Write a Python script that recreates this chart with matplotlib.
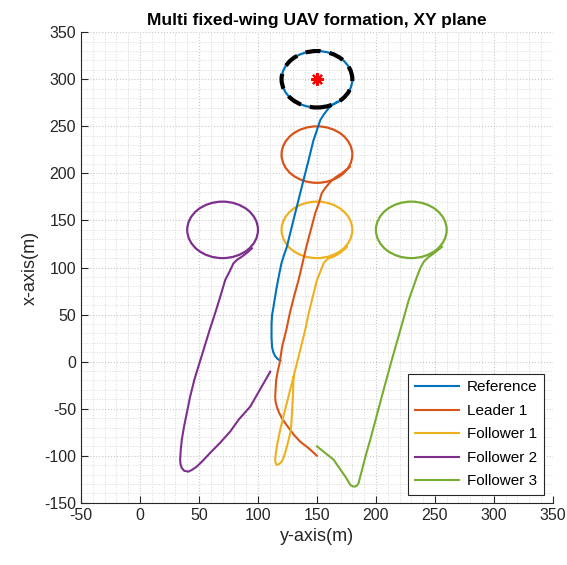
import matplotlib
matplotlib.use("Agg")
import matplotlib.pyplot as plt
from matplotlib.patches import Circle
from matplotlib.ticker import MultipleLocator

plt.rcParams['font.family'] = ['Liberation Sans', 'DejaVu Sans']
plt.rcParams['axes.unicode_minus'] = False

# horizontal axis is "y-axis(m)", vertical axis is "x-axis(m)"
names = ["Reference", "Leader 1", "Follower 1", "Follower 2", "Follower 3"]
colors = ["#0072BD", "#D95319", "#EDB120", "#7E2F8E", "#77AC30"]

# approach paths
ref_y = [119, 116.5, 114.5, 113, 112, 111.5, 111.5, 112, 113, 114, 116, 118, 120, 122, 124.5,
         128, 131.6, 135, 138.6, 142.5, 147, 150, 152.8, 155.5, 158.5, 162, 167]
ref_x = [1, 3, 6, 10, 15, 25, 40, 50, 57, 65, 80, 93, 105, 113, 122,
         140, 158, 175, 193, 212, 235, 246, 256.6, 262, 267, 272, 276]

lead_y = [150, 143, 135.8, 131, 127.3, 123.5, 120.3, 117.8, 116, 114.8, 114.6, 115, 115.4, 116.8,
          118.3, 120.5, 124, 127, 130.5, 134.4, 141, 148.6, 151.5, 154, 157, 160, 163, 166,
          169, 172, 175, 178]
lead_x = [-100, -92, -85, -78.5, -72.5, -66, -60, -54, -48, -42, -37, -28, -19.5, -10,
          -1.7, 16, 33.6, 51.6, 69, 86.7, 122, 158, 168, 178.8, 184.5, 189, 193, 196,
          198.5, 201, 204, 207]

f1_y = [130.2, 129.6, 128.8, 127.9, 126, 124.5, 123, 121.7, 120.3, 118, 116, 115, 114.6, 115.2,
        116, 118.8, 123, 127.3, 131.6, 135.8, 140, 143, 150, 153, 155.6, 158, 160, 164,
        167, 170, 173, 175.5]
f1_x = [-16, -37, -55, -72.5, -83, -90, -97, -102, -106, -108.7, -109.7, -108, -104, -97,
        -90, -72.5, -51, -30, -8.8, 12.4, 33.6, 51.6, 86.7, 96, 104.5, 108, 109.8, 111.5,
        113.5, 116, 119, 122]

f2_y = [110.4, 102, 93.4, 84, 76.4, 68, 59.4, 53, 48.1, 44, 41, 37.5, 35.4, 34.3, 34,
        34.5, 35.4, 37.3, 39.6, 42.5, 46, 49, 52, 59, 63.7, 68, 72.2, 76, 79.2,
        82.5, 86.3, 91, 94.8]
f2_x = [-10.6, -29, -47.8, -61, -74.3, -86, -97, -105.5, -111.5, -115, -116.8, -116, -113, -109, -104,
        -94, -83, -69, -54.8, -37, -19.4, -7, 5, 33.6, 51.6, 69, 86.7, 96, 104.5,
        108.5, 111.5, 116, 120.4]

f3_y = [150, 157, 164, 169, 174, 176.5, 178.3, 180.5, 182.5, 184, 185.3, 186.5, 188.2, 191.5,
        195.2, 206.5, 213.5, 220.7, 227.8, 234.8, 237.5, 240.5, 244.5, 249, 252.5, 256]
f3_x = [-90, -97, -104, -113, -122, -127, -131, -132.5, -132.7, -131.5, -129, -123, -115, -99,
        -83, -30, 2, 33.6, 65.4, 90.2, 99, 106, 111, 115, 118.5, 122]

# loiter circles: centre (y, x) and radius
loiter_y = [150, 150, 150, 70, 230]
loiter_x = [300, 220, 140, 140, 140]
loiter_r = [30, 30, 30, 30, 30]

target_y, target_x, target_r = 150, 300, 30

paths = [(ref_y, ref_x), (lead_y, lead_x), (f1_y, f1_x), (f2_y, f2_x), (f3_y, f3_x)]

fig = plt.figure(figsize=(5.67, 5.65), dpi=100)
ax = fig.add_axes([0.143, 0.110, 0.832, 0.833])

handles = []
for (py, px), name, c, cy, cx, r in zip(paths, names, colors, loiter_y, loiter_x, loiter_r):
    h, = ax.plot(py, px, color=c, lw=1.5, label=name, solid_joinstyle="round")
    handles.append(h)
    ax.add_patch(Circle((cy, cx), r, fill=False, edgecolor=c, lw=1.6))

ax.add_patch(Circle((target_y, target_x), target_r, fill=False, edgecolor="black",
                    lw=3, linestyle=(0, (3.6, 2.2)), zorder=5))
ax.plot([target_y], [target_x], marker=(8, 2, 0), color="red", markersize=9, mew=1.6,
        ls="none", zorder=6)

ax.set_xlim(-50, 350)
ax.set_ylim(-150, 350)
ax.xaxis.set_major_locator(MultipleLocator(50))
ax.yaxis.set_major_locator(MultipleLocator(50))
ax.xaxis.set_minor_locator(MultipleLocator(10))
ax.yaxis.set_minor_locator(MultipleLocator(10))
ax.grid(True, which="major", ls=":", color="#c8c8c8", lw=0.8)
ax.grid(True, which="minor", ls=":", color="#d8d8d8", lw=0.7)
ax.set_axisbelow(True)

for s in ["top", "right"]:
    ax.spines[s].set_visible(False)
for s in ["left", "bottom"]:
    ax.spines[s].set_color("#262626")
ax.tick_params(which="major", direction="in", length=5, colors="#262626", labelsize=11.5)
ax.tick_params(which="minor", length=0)

ax.set_xlabel("y-axis(m)", fontsize=13, color="#262626")
ax.set_ylabel("x-axis(m)", fontsize=13, color="#262626")
ax.set_title("Multi fixed-wing UAV formation, XY plane", fontsize=12.5, fontweight="bold", pad=5)

leg = ax.legend(handles=handles, loc="lower right", fontsize=11, fancybox=False,
                edgecolor="#262626", framealpha=1, borderaxespad=0.5, handlelength=2.9,
                handletextpad=0.5, labelspacing=0.62, borderpad=0.45,
                bbox_to_anchor=(0.998, 0.0))
leg.get_frame().set_linewidth(0.8)

fig.savefig("out.png", dpi=100)
